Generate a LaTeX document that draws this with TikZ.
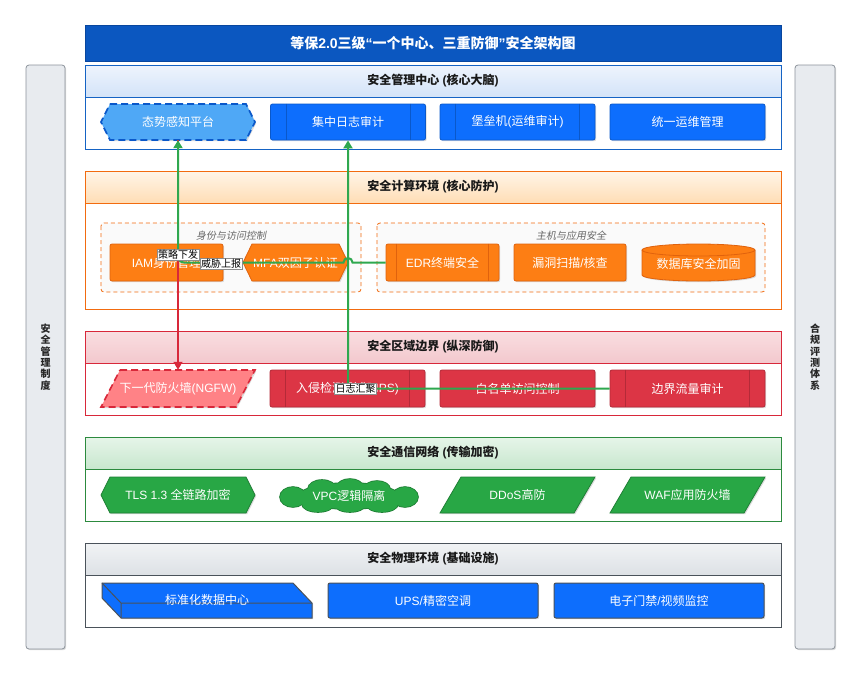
\documentclass[tikz,border=0pt]{standalone}
\usepackage{fontspec}
\setmainfont{Noto Sans CJK SC}
\newfontfamily\cjkit{Noto Sans CJK SC}[FakeSlant=0.18]
\newfontfamily\latf{Liberation Sans}
\newcommand{\latx}[1]{{\latf #1}}
\usetikzlibrary{shapes.geometric,shapes.symbols,shadows,arrows.meta,calc}
\definecolor{titleB}{HTML}{0B57C0}
\definecolor{titleD}{HTML}{08469E}
\definecolor{mC}{HTML}{1563C4}
\definecolor{mT}{HTML}{EEF4FD}
\definecolor{mB}{HTML}{D3E3F8}
\definecolor{cC}{HTML}{F26B0F}
\definecolor{cT}{HTML}{FFF5E8}
\definecolor{cB}{HTML}{FFDDB5}
\definecolor{bC}{HTML}{D8283A}
\definecolor{bT}{HTML}{F9DEE1}
\definecolor{bB}{HTML}{F3C8CD}
\definecolor{tC}{HTML}{2C8A3E}
\definecolor{tT}{HTML}{E6F5E9}
\definecolor{tB}{HTML}{C8E7CE}
\definecolor{pC}{HTML}{4A525A}
\definecolor{pT}{HTML}{F1F3F5}
\definecolor{pB}{HTML}{DDE1E5}
\definecolor{nB}{HTML}{0D6EFD}
\definecolor{nBd}{HTML}{0A58CA}
\definecolor{nL}{HTML}{4FA8F6}
\definecolor{nO}{HTML}{FD7E14}
\definecolor{nOd}{HTML}{E0620D}
\definecolor{nR}{HTML}{DC3545}
\definecolor{nRd}{HTML}{B42A38}
\definecolor{nRl}{HTML}{FF8286}
\definecolor{nG}{HTML}{28A745}
\definecolor{nGd}{HTML}{1F7F35}
\definecolor{sideF}{HTML}{E8EBEF}
\definecolor{sideD}{HTML}{8C939B}
\definecolor{lnG}{HTML}{2FA84F}
\definecolor{lnR}{HTML}{D8283A}
\begin{document}
\begin{tikzpicture}[x=1pt,y=-1pt,
  nfont/.style={font=\fontsize{12}{14}\selectfont},
  shad/.style={drop shadow={shadow xshift=1.2pt,shadow yshift=-1.2pt,opacity=0.28}},
  nbox/.style={rectangle,rounded corners=2pt,minimum width=155pt,minimum height=36pt,inner sep=0pt,text=white,nfont,line width=0.8pt,shad},
  ntxt/.style={inner sep=0pt,text=white,nfont,minimum height=36pt},
  lyr/.style={line width=1pt,fill=white},
  hdr/.style={line width=1pt},
  htxt/.style={font=\bfseries\fontsize{12}{14}\selectfont,text=black!90},
  grp/.style={draw=cC,dash pattern=on 4pt off 3pt,line width=0.8pt,rounded corners=3pt,fill=black!2},
  gtxt/.style={font=\cjkit\fontsize{10}{12}\selectfont,text=black!60},
  gline/.style={draw=lnG,line width=2pt},
  rline/.style={draw=lnR,line width=1.3pt},
  garrow/.style={-{Triangle[length=8pt,width=9pt]}},
  lbl/.style={fill=white,draw=black!45,line width=0.4pt,inner sep=1pt,font=\fontsize{10}{11}\selectfont,text=black},
  sidebar/.style={draw=sideD,fill=sideF,line width=0.8pt,rounded corners=3pt,shad},
  stxt/.style={font=\bfseries\fontsize{10}{11.4}\selectfont,align=center,text=black!85},
  subl/.style={line width=0.8pt}
]
\useasboundingbox[fill=white] (0,0) rectangle (863,678);

% side bars
\draw[sidebar] (26,65) rectangle (65,649);
\node[stxt] (slt) at (45.5,357) {安\\全\\管\\理\\制\\度};
\draw[sidebar] (795,65) rectangle (835,649);
\node[stxt] (srt) at (815,357) {合\\规\\评\\测\\体\\系};

% title
\draw[fill=titleB,draw=titleD,line width=1pt] (85,25) rectangle (781,61);
\node[font=\bfseries\fontsize{14}{16}\selectfont,text=white] (title) at (433,43) {等保\latx{2.0}三级\latx{“}一个中心、三重防御\latx{”}安全架构图};

% layers
\draw[lyr,draw=mC] (85,65) rectangle (781,149);
\draw[hdr,draw=mC,top color=mT,bottom color=mB] (85,65) rectangle (781,97);
\node[htxt] (h1) at (433,81) {安全管理中心\latx{ (}核心大脑\latx{)}};

\draw[lyr,draw=cC] (85,171) rectangle (781,309);
\draw[hdr,draw=cC,top color=cT,bottom color=cB] (85,171) rectangle (781,203);
\node[htxt] (h2) at (433,187) {安全计算环境\latx{ (}核心防护\latx{)}};

\draw[lyr,draw=bC] (85,331) rectangle (781,415);
\draw[hdr,draw=bC,top color=bT,bottom color=bB] (85,331) rectangle (781,363);
\node[htxt] (h3) at (433,347) {安全区域边界\latx{ (}纵深防御\latx{)}};

\draw[lyr,draw=tC] (85,437) rectangle (781,521);
\draw[hdr,draw=tC,top color=tT,bottom color=tB] (85,437) rectangle (781,469);
\node[htxt] (h4) at (433,453) {安全通信网络\latx{ (}传输加密\latx{)}};

\draw[lyr,draw=pC] (85,543) rectangle (781,627);
\draw[hdr,draw=pC,top color=pT,bottom color=pB] (85,543) rectangle (781,575);
\node[htxt] (h5) at (433,559) {安全物理环境\latx{ (}基础设施\latx{)}};

% management row
\draw[fill=nL,draw=nBd,line width=1.6pt,dash pattern=on 7pt off 4pt,shad] (110,104) -- (246,104) -- (255,122) -- (246,140) -- (110,140) -- (101,122) -- cycle;
\node[ntxt,minimum width=154pt] (sit) at (178,122) {态势感知平台};
\node[nbox,fill=nB,draw=nBd] (la) at (348,122) {集中日志审计};
\draw[subl,draw=nBd] ([xshift=16pt]la.north west) -- ([xshift=16pt]la.south west) ([xshift=-16pt]la.north east) -- ([xshift=-16pt]la.south east);
\node[nbox,fill=nB,draw=nBd] (bas) at (517.5,122) {堡垒机\latx{(}运维审计\latx{)}};
\draw[subl,draw=nBd] ([xshift=16pt]bas.north west) -- ([xshift=16pt]bas.south west) ([xshift=-16pt]bas.north east) -- ([xshift=-16pt]bas.south east);
\node[nbox,fill=nB,draw=nBd] (ops) at (687.5,122) {统一运维管理};

% compute row
\draw[grp] (101,223) rectangle (361,292);
\node[gtxt] (g1) at (231,236) {身份与访问控制};
\draw[grp] (377,223) rectangle (765,292);
\node[gtxt] (g2) at (571,236) {主机与应用安全};
\node[nbox,fill=nO,draw=nOd,minimum width=113pt,minimum height=37pt] (iam) at (166.5,262.5) {\latx{IAM}身份管理};
\draw[fill=nO,draw=nOd,line width=0.8pt,shad] (252,244) -- (339,244) -- (348,262.5) -- (339,281) -- (252,281) -- (243,262.5) -- cycle;
\node[ntxt,minimum width=105pt,minimum height=37pt] (mfa) at (295.5,262.5) {\latx{MFA}双因子认证};
\node[nbox,fill=nO,draw=nOd,minimum width=113pt,minimum height=37pt] (edr) at (442.5,262.5) {\latx{EDR}终端安全};
\draw[subl,draw=nOd] ([xshift=11pt]edr.north west) -- ([xshift=11pt]edr.south west) ([xshift=-11pt]edr.north east) -- ([xshift=-11pt]edr.south east);
\node[nbox,fill=nO,draw=nOd,minimum width=112pt,minimum height=37pt] (vul) at (570,262.5) {漏洞扫描\latx{/}核查};
\draw[fill=nO,draw=nOd,line width=0.8pt,shad] (642,250) -- (642,275) arc[start angle=180,end angle=360,x radius=56.5pt,y radius=6pt] -- (755,250) arc[start angle=0,end angle=180,x radius=56.5pt,y radius=6pt] -- cycle;
\draw[draw=nOd,line width=0.8pt] (642,250) arc[start angle=180,end angle=360,x radius=56.5pt,y radius=6pt];
\node[ntxt,minimum width=113pt,minimum height=37pt] (db) at (698.5,264) {数据库安全加固};

% boundary row
\draw[fill=nRl,draw=bC,line width=1.6pt,dash pattern=on 7pt off 4pt,shad] (120,370) -- (255,370) -- (236,407) -- (101,407) -- cycle;
\node[ntxt,minimum width=154pt,minimum height=37pt] (ngfw) at (178,388.5) {下一代防火墙\latx{(NGFW)}};
\node[nbox,fill=nR,draw=nRd,minimum height=37pt] (ips) at (347.5,388.5) {入侵检测\latx{/}防御\latx{(IPS)}};
\draw[subl,draw=nRd] ([xshift=16pt]ips.north west) -- ([xshift=16pt]ips.south west) ([xshift=-16pt]ips.north east) -- ([xshift=-16pt]ips.south east);
\node[nbox,fill=nR,draw=nRd,minimum height=37pt] (wl) at (517.5,388.5) {白名单访问控制};
\node[nbox,fill=nR,draw=nRd,minimum height=37pt] (bfa) at (687.5,388.5) {边界流量审计};
\draw[subl,draw=nRd] ([xshift=16pt]bfa.north west) -- ([xshift=16pt]bfa.south west) ([xshift=-16pt]bfa.north east) -- ([xshift=-16pt]bfa.south east);

% communication row
\draw[fill=nG,draw=nGd,line width=0.8pt,shad] (110,477) -- (246,477) -- (255,495) -- (246,513) -- (110,513) -- (101,495) -- cycle;
\node[ntxt,minimum width=154pt] (tls) at (178,495) {\latx{TLS 1.3 }全链路加密};
% cloud: outline layer then fill layer
\foreach \cx/\cy/\rx/\ry in {349/496/50/13, 293/497/13/10, 322/489/14/9, 350/487/13/8, 377/489/13/8, 405/497/13/10, 318/504/16/8, 350/505/15/7, 382/504/16/8}
  \draw[draw=nGd,line width=1.6pt,fill=nG] (\cx,\cy) ellipse[x radius=\rx pt,y radius=\ry pt];
\foreach \cx/\cy/\rx/\ry in {349/496/50/13, 293/497/13/10, 322/489/14/9, 350/487/13/8, 377/489/13/8, 405/497/13/10, 318/504/16/8, 350/505/15/7, 382/504/16/8}
  \fill[nG] (\cx,\cy) ellipse[x radius=\rx pt,y radius=\ry pt];
\node[ntxt,minimum width=138pt,minimum height=32pt] (vpc) at (349,496) {\latx{VPC}逻辑隔离};
\draw[fill=nG,draw=nGd,line width=0.8pt,shad] (461,477) -- (595,477) -- (574,513) -- (440,513) -- cycle;
\node[ntxt,minimum width=134pt] (ddos) at (517.5,495) {\latx{DDoS}高防};
\draw[fill=nG,draw=nGd,line width=0.8pt,shad] (631,477) -- (765,477) -- (744,513) -- (610,513) -- cycle;
\node[ntxt,minimum width=134pt] (waf) at (687.5,495) {\latx{WAF}应用防火墙};

% physical row
\draw[fill=nB,draw=pC,line width=1pt,shad] (102,583) -- (293,583) -- (312,603) -- (312,618) -- (121,618) -- (102,598) -- cycle;
\draw[draw=pC,line width=1pt] (102,583) -- (121,603) -- (312,603) (121,603) -- (121,618);
\node[ntxt,minimum width=210pt,minimum height=35pt] (dc) at (207,599.5) {标准化数据中心};
\node[nbox,fill=nB,draw=pC,line width=1pt,minimum width=210pt,minimum height=35pt] (ups) at (433,600.5) {\latx{UPS/}精密空调};
\node[nbox,fill=nB,draw=pC,line width=1pt,minimum width=210pt,minimum height=35pt] (acs) at (659,600.5) {电子门禁\latx{/}视频监控};

% connectors
\draw[rline,garrow] (sit.south) -- (ngfw.north);
\coordinate (hopR) at ($(la.south |- edr.west)+(4.5,0)$);
\coordinate (cor1) at (sit.south |- edr.west);
\draw[gline,garrow] (edr.west) -- (hopR) arc[start angle=0,end angle=180,radius=4.5pt] [rounded corners=6pt] -- (cor1) -- (sit.south);
\coordinate (cor2) at (la.south |- bfa.west);
\draw[gline,garrow,rounded corners=6pt] (bfa.west) -- (cor2) -- (la.south);

% connector labels
\node[lbl] (l1) at ($(sit.south)!0.5!(ngfw.north)$) {策略下发};
\node[lbl] (l2) at ($(cor1)+(43,1.5)$) {威胁上报};
\node[lbl] (l3) at ($(cor2)+(7.5,0.5)$) {日志汇聚};
\end{tikzpicture}
\end{document}
